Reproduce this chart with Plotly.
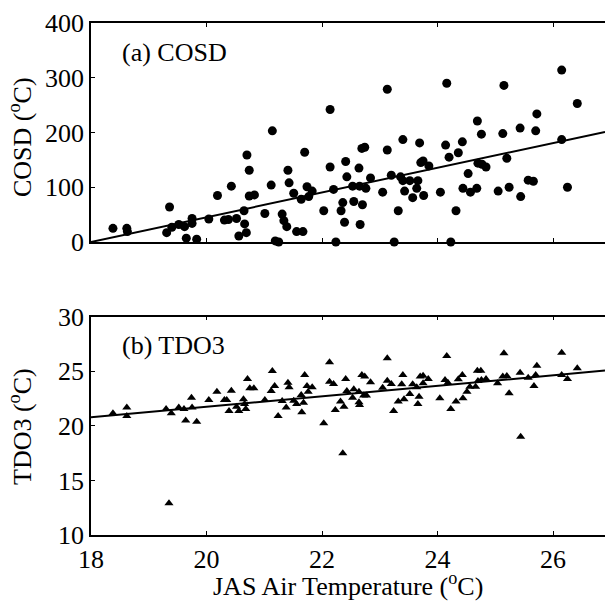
import plotly.graph_objects as go

# ---- data: panel (a) COSD ----
cosd_x = [18.38, 18.62, 18.63, 19.36, 19.31, 19.40, 19.52, 19.62, 19.65, 19.75, 19.75, 19.83,
          20.04, 20.19, 20.31, 20.38, 20.43, 20.52, 20.56, 20.65, 20.66, 20.69, 20.70, 20.74,
          20.74, 20.83, 21.01, 21.14, 21.12, 21.19, 21.25, 21.31, 21.34, 21.39, 21.41, 21.43,
          21.51, 21.56, 21.67, 21.64, 21.70, 21.74, 21.77, 21.83, 22.03, 22.14, 22.14, 22.20,
          22.24, 22.33, 22.36, 22.39, 22.41, 22.43, 22.53, 22.55, 22.64, 22.65, 22.66, 22.70,
          22.69, 22.74, 22.76, 22.84, 23.05, 23.13, 23.13, 23.20, 23.25, 23.32, 23.36, 23.40,
          23.40, 23.43, 23.52, 23.57, 23.64, 23.66, 23.69, 23.71, 23.75, 23.76, 23.85, 24.05,
          24.14, 24.16, 24.20, 24.32, 24.36, 24.43, 24.44, 24.53, 24.57, 24.68, 24.69, 24.70,
          24.76, 24.77, 24.84, 25.05, 25.13, 25.15, 25.20, 25.24, 25.43, 25.44, 25.57, 25.66,
          25.70, 25.72, 26.15, 26.15, 26.25, 26.42, 24.23]
cosd_y = [25, 25, 19, 64, 17, 27, 32, 28, 7, 43, 34, 5,
          42, 85, 40, 41, 102, 43, 11, 57, 33, 17, 159, 131,
          84, 86, 52, 203, 104, 2, 0, 51, 39, 28, 131, 108,
          89, 19, 19, 78, 164, 101, 83, 93, 57, 242, 137, 96,
          0, 57, 72, 36, 147, 119, 102, 74, 135, 102, 32, 68,
          171, 173, 98, 117, 91, 279, 168, 122, 0, 57, 119, 187,
          112, 93, 112, 81, 98, 112, 181, 145, 148, 85, 139, 91,
          177, 290, 155, 57, 163, 183, 98, 125, 91, 98, 221, 144,
          197, 142, 137, 93, 198, 286, 153, 100, 208, 83, 113, 111,
          203, 234, 314, 187, 100, 253, 0]

# ---- data: panel (b) TDO3 ----
tdo3_x = [18.38, 18.62, 18.62, 19.30, 19.39, 19.35, 19.52, 19.61, 19.64, 19.74, 19.75, 19.83,
          20.04, 20.18, 20.31, 20.35, 20.43, 20.39, 20.52, 20.56, 20.64, 20.66, 20.68, 20.71,
          20.75, 20.82, 21.01, 21.14, 21.12, 21.18, 21.24, 21.31, 21.38, 21.41, 21.43, 21.51,
          21.56, 21.64, 21.65, 21.68, 21.70, 21.74, 21.76, 21.83, 22.03, 22.13, 22.13, 22.20,
          22.23, 22.32, 22.38, 22.36, 22.41, 22.43, 22.53, 22.55, 22.64, 22.65, 22.64, 22.69,
          22.74, 22.72, 22.77, 22.84, 23.05, 23.13, 23.13, 23.20, 23.24, 23.32, 23.38, 23.40,
          23.42, 23.52, 23.57, 23.64, 23.66, 23.68, 23.70, 23.75, 23.75, 23.84, 24.04, 24.13,
          24.16, 24.18, 24.23, 24.32, 24.36, 24.43, 24.44, 24.51, 24.56, 24.66, 24.69, 24.75,
          24.70, 24.76, 24.84, 25.04, 25.13, 25.15, 25.20, 25.24, 25.43, 25.44, 25.57, 25.67,
          25.70, 25.72, 26.15, 26.15, 26.25, 26.42]
tdo3_y = [21.15, 21.67, 20.91, 21.55, 21.15, 12.91, 21.67, 21.55, 20.48, 22.58, 21.67, 20.38,
          22.37, 23.13, 22.37, 22.37, 23.22, 21.36, 21.76, 21.36, 22.44, 22.01, 21.55, 24.29,
          23.44, 23.44, 22.37, 25.03, 23.20, 23.65, 20.91, 22.28, 21.67, 23.96, 23.53, 22.31,
          22.01, 22.83, 21.25, 22.12, 24.66, 23.65, 23.13, 23.53, 20.24, 25.82, 24.05, 23.84,
          21.46, 22.22, 21.76, 17.49, 24.29, 23.20, 22.58, 23.35, 22.16, 21.91, 23.13, 24.66,
          24.51, 22.77, 22.77, 23.99, 23.50, 26.19, 24.14, 23.84, 21.36, 22.22, 23.81, 24.66,
          22.44, 22.92, 23.81, 23.53, 22.01, 22.67, 24.51, 24.60, 23.90, 24.29, 22.53, 24.20,
          26.40, 23.96, 21.55, 22.22, 24.27, 24.66, 22.53, 23.13, 23.59, 23.59, 25.05, 25.05,
          24.11, 24.20, 24.29, 23.90, 24.51, 26.65, 24.57, 22.99, 24.87, 19.01, 24.41, 23.65,
          24.66, 25.51, 26.70, 24.66, 24.29, 25.27]

# ---- fitted lines (slope, intercept) ----
cosd_fit = (22.6, -406.8)
tdo3_fit = (0.48, 12.15)

x_range = [18, 26.9]
x_ticks = [18, 20, 22, 24, 26]
cosd_ticks = [0, 100, 200, 300, 400]
tdo3_ticks = [10, 15, 20, 25, 30]

FONT = "Liberation Serif, Times New Roman, serif"

fig = go.Figure()
fig.add_trace(go.Scatter(x=cosd_x, y=cosd_y, mode="markers", xaxis="x", yaxis="y",
                         marker=dict(symbol="circle", size=9, color="black"),
                         cliponaxis=False, showlegend=False))
fig.add_trace(go.Scatter(x=x_range, y=[cosd_fit[0] * v + cosd_fit[1] for v in x_range],
                         mode="lines", xaxis="x", yaxis="y",
                         line=dict(color="black", width=2), showlegend=False))
fig.add_trace(go.Scatter(x=tdo3_x, y=tdo3_y, mode="markers", xaxis="x2", yaxis="y2",
                         marker=dict(symbol="triangle-up", size=8, color="black"),
                         cliponaxis=False, showlegend=False))
fig.add_trace(go.Scatter(x=x_range, y=[tdo3_fit[0] * v + tdo3_fit[1] for v in x_range],
                         mode="lines", xaxis="x2", yaxis="y2",
                         line=dict(color="black", width=2), showlegend=False))

common_x = dict(range=x_range, tickvals=x_ticks, ticks="inside", ticklen=4, tickwidth=1,
                tickcolor="black", showline=True, linecolor="black", linewidth=1.5,
                mirror="allticks", showgrid=False, zeroline=False,
                tickfont=dict(family=FONT, size=26, color="black"))
common_y = dict(ticks="inside", ticklen=4, tickwidth=1, tickcolor="black",
                showline=True, linecolor="black", linewidth=1.5, showgrid=False,
                zeroline=False, tickfont=dict(family=FONT, size=26, color="black"))

H = 512.0
fig.update_layout(
    width=605, height=602,
    margin=dict(l=91, r=0, t=23, b=67),
    paper_bgcolor="white", plot_bgcolor="white",
    xaxis=dict(**common_x, anchor="y", showticklabels=False),
    yaxis=dict(**common_y, range=[0, 400], tickvals=cosd_ticks, anchor="x",
               domain=[(535 - 242) / H, 1.0]),
    xaxis2=dict(**common_x, anchor="y2", matches="x"),
    yaxis2=dict(**common_y, range=[10, 30], tickvals=tdo3_ticks, anchor="x2",
                domain=[0, (535 - 316.7) / H]),
    font=dict(family=FONT, color="black"),
)

ann_font = dict(family=FONT, size=26, color="black")
fig.add_annotation(text="(a) COSD", xref="paper", yref="paper", x=(120 - 91) / 514,
                   y=(535 - 52) / H, xanchor="left", yanchor="middle", showarrow=False,
                   font=ann_font)
fig.add_annotation(text="(b) TDO3", xref="paper", yref="paper", x=(120 - 91) / 514,
                   y=(535 - 345) / H, xanchor="left", yanchor="middle", showarrow=False,
                   font=ann_font)
fig.add_annotation(text="COSD (<sup>o</sup>C)", xref="paper", yref="paper",
                   x=(20 - 91) / 514, y=(535 - 137) / H, xanchor="center", yanchor="middle",
                   textangle=-90, showarrow=False, font=ann_font)
fig.add_annotation(text="TDO3 (<sup>o</sup>C)", xref="paper", yref="paper",
                   x=(20 - 91) / 514, y=(535 - 427) / H, xanchor="center", yanchor="middle",
                   textangle=-90, showarrow=False, font=ann_font)
fig.add_annotation(text="JAS Air Temperature (<sup>o</sup>C)", xref="paper", yref="paper",
                   x=(348 - 91) / 514, y=(535 - 584) / H, xanchor="center", yanchor="middle",
                   showarrow=False, font=ann_font)

fig.write_html("out.html")
